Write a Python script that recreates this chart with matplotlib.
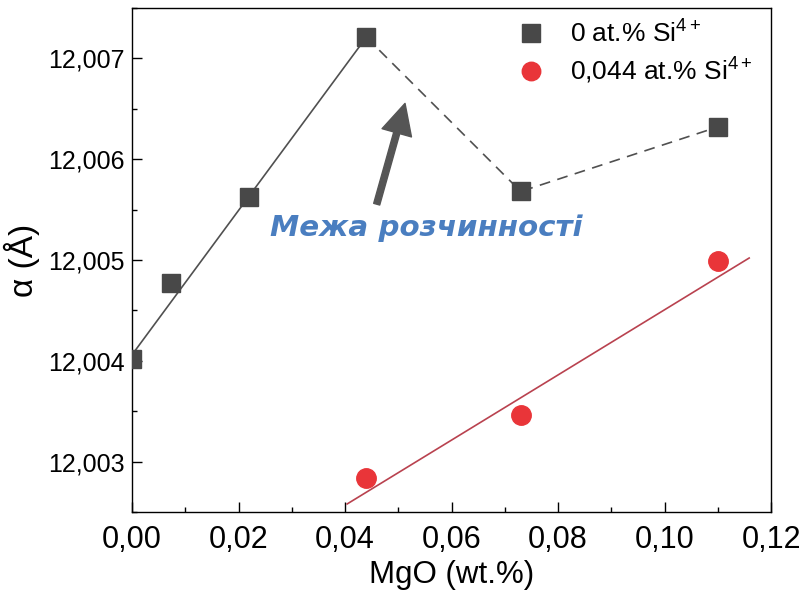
import matplotlib
matplotlib.use("Agg")
import matplotlib.pyplot as plt
from matplotlib.ticker import MultipleLocator, FuncFormatter

plt.rcParams['font.family'] = ['Liberation Sans', 'DejaVu Sans']
plt.rcParams['mathtext.fontset'] = 'custom'
plt.rcParams['mathtext.rm'] = 'Liberation Sans'
plt.rcParams['mathtext.it'] = 'Liberation Sans:italic'

# Lattice parameter vs MgO content
mgo_0si = [0.0, 0.0073, 0.022, 0.044, 0.073, 0.110]
a_0si = [12.00402, 12.00477, 12.00563, 12.00721, 12.00568, 12.00632]

mgo_si = [0.044, 0.073, 0.110]
a_si = [12.00284, 12.00346, 12.00499]

# linear trend below the solubility limit (0 at.% Si)
trend_0si_x = [0.0, 0.044]
trend_0si_y = [12.00406, 12.00721]

# linear trend for 0.044 at.% Si
trend_si_x = [0.0404, 0.1159]
trend_si_y = [12.00258, 12.00502]

label_0si = r"0 at.% Si$^{4+}$"
label_si = r"0,044 at.% Si$^{4+}$"
note_text = "Межа розчинності"

fig = plt.figure(figsize=(8.07, 5.99), dpi=100)
ax = fig.add_axes([0.1636, 0.1452, 0.7918, 0.8414])

dark = '#484848'
red = '#e93539'

ax.plot(trend_0si_x, trend_0si_y, color='#505050', lw=1.2, zorder=2)
ax.plot(mgo_0si[3:], a_0si[3:], color='#505050', lw=1.2,
        linestyle=(0, (6.5, 4.5)), zorder=2)
ax.plot(trend_si_x, trend_si_y, color='#b9424f', lw=1.2, zorder=2)

ax.plot(mgo_0si, a_0si, linestyle='none', marker='s', ms=13,
        color=dark, label=label_0si, zorder=3)
ax.plot(mgo_si, a_si, linestyle='none', marker='o', ms=14,
        color=red, label=label_si, zorder=3)

ax.annotate('', xy=(0.05127, 12.006554), xytext=(0.04595, 12.005554),
            arrowprops=dict(facecolor='#555555', edgecolor='#555555',
                            width=4.5, headwidth=22, headlength=22, shrink=0))
ax.text(0.0552, 12.005241, note_text, ha='center', va='baseline',
        fontsize=21.2, color='#4a7ec0', fontweight='bold', fontstyle='oblique',
        family=['DejaVu Sans'])

ax.set_xlim(0, 0.12)
ax.set_ylim(12.0025, 12.0075)
ax.xaxis.set_major_locator(MultipleLocator(0.02))
ax.xaxis.set_minor_locator(MultipleLocator(0.01))
ax.yaxis.set_major_locator(MultipleLocator(0.001))
ax.yaxis.set_minor_locator(MultipleLocator(0.0005))
ax.xaxis.set_major_formatter(FuncFormatter(lambda v, p: f"{v:.2f}".replace('.', ',')))
ax.yaxis.set_major_formatter(FuncFormatter(lambda v, p: f"{v:.3f}".replace('.', ',')))

ax.tick_params(which='both', direction='in', top=False, right=False, width=1.0)
ax.tick_params(which='major', length=7)
ax.tick_params(which='minor', length=3.5)
ax.tick_params(axis='x', labelsize=22, pad=9)
ax.tick_params(axis='y', labelsize=18, pad=5)
for s in ax.spines.values():
    s.set_linewidth(1.0)

ax.set_xlabel("MgO (wt.%)", fontsize=22.5, labelpad=4)
ax.set_ylabel("α (Å)", fontsize=24, labelpad=6)

ax.legend(loc='upper right', bbox_to_anchor=(1.0, 1.012), frameon=False,
          fontsize=19, handletextpad=0.5, borderaxespad=0.3,
          labelspacing=0.3, markerscale=0.95)

fig.savefig("out.png", dpi=100)
